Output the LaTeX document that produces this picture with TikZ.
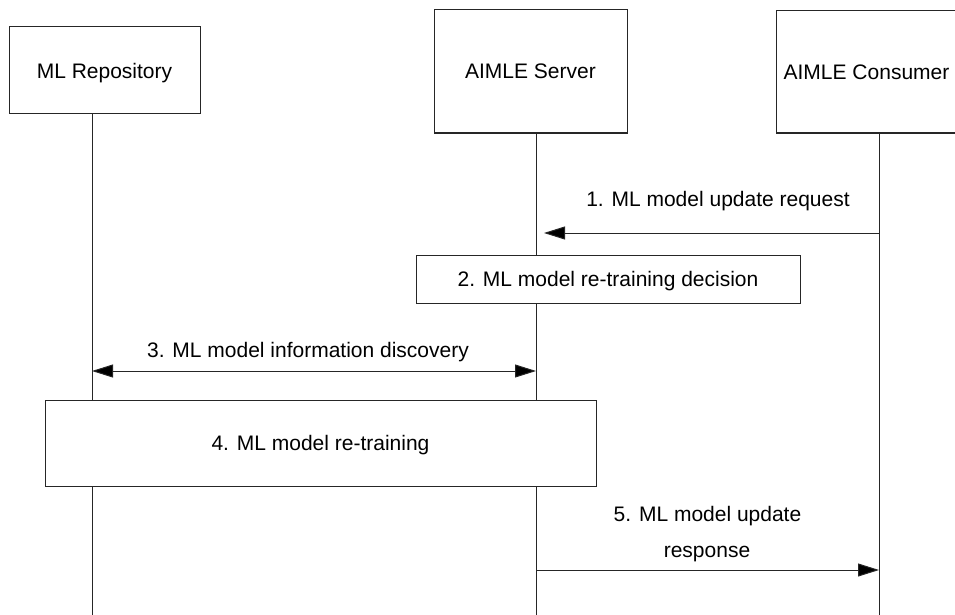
\documentclass[tikz,border=0pt]{standalone}
\usepackage{fontspec}
\setmainfont{Liberation Sans}
\usetikzlibrary{arrows.meta}
\begin{document}
\begin{tikzpicture}[x=1pt,y=-1pt,
  every node/.style={font=\fontsize{21}{25}\selectfont, inner sep=0pt},
  ln/.style={draw=black!85, line width=1pt},
  boxnode/.style={ln, fill=white, rectangle, text depth=0pt, align=center},
  msg/.style={ln, -{Triangle[length=21pt,width=13pt,fill=black]}},
  bimsg/.style={ln, {Triangle[length=21pt,width=13pt,fill=black]}-{Triangle[length=21pt,width=13pt,fill=black]}},
  lbl/.style={anchor=base}]
\useasboundingbox (0,0) rectangle (955,615);

% entity boxes
\node[boxnode, minimum width=191pt, minimum height=87pt] (rep) at (104.5,70.5) {ML Repository};
\node[boxnode, minimum width=193pt, minimum height=123pt] (srv) at (530.5,71.5) {AIMLE Server};
\node[boxnode, minimum width=181pt, minimum height=122pt] (con) at (866.5,72) {AIMLE Consumer};

% lifeline ends
\coordinate (repEnd) at (92,615);
\coordinate (srvEnd) at (536,615);
\coordinate (conEnd) at (879,615);

\draw[ln] (rep.south -| repEnd) -- (repEnd);
\draw[ln] (srv.south -| srvEnd) -- (srvEnd);
\draw[ln] (con.south -| conEnd) -- (conEnd);

% step 1
\coordinate (c1) at (879,233);
\coordinate (s1) at (544,233);
\draw[msg] (c1) -- (s1);
\node[lbl] (l1) at (718,206) {1. ML model update request};

% step 2
\node[boxnode, minimum width=384pt, minimum height=48pt] (b2) at (608,279) {2. ML model re-training decision};

% step 3
\coordinate (r3) at (92,371);
\coordinate (s3) at (536,371);
\draw[bimsg] (r3) -- (s3);
\node[lbl] (l3) at (308,357) {3. ML model information discovery};

% step 4
\node[boxnode, minimum width=551pt, minimum height=86pt] (b4) at (320.5,443) {4. ML model re-training};

% step 5
\coordinate (s5) at (536,570);
\coordinate (c5) at (879,570);
\draw[msg] (s5) -- (c5);
\node[lbl] (l5a) at (707.5,521) {5. ML model update};
\node[lbl] (l5b) at (707,557) {response};
\end{tikzpicture}
\end{document}
